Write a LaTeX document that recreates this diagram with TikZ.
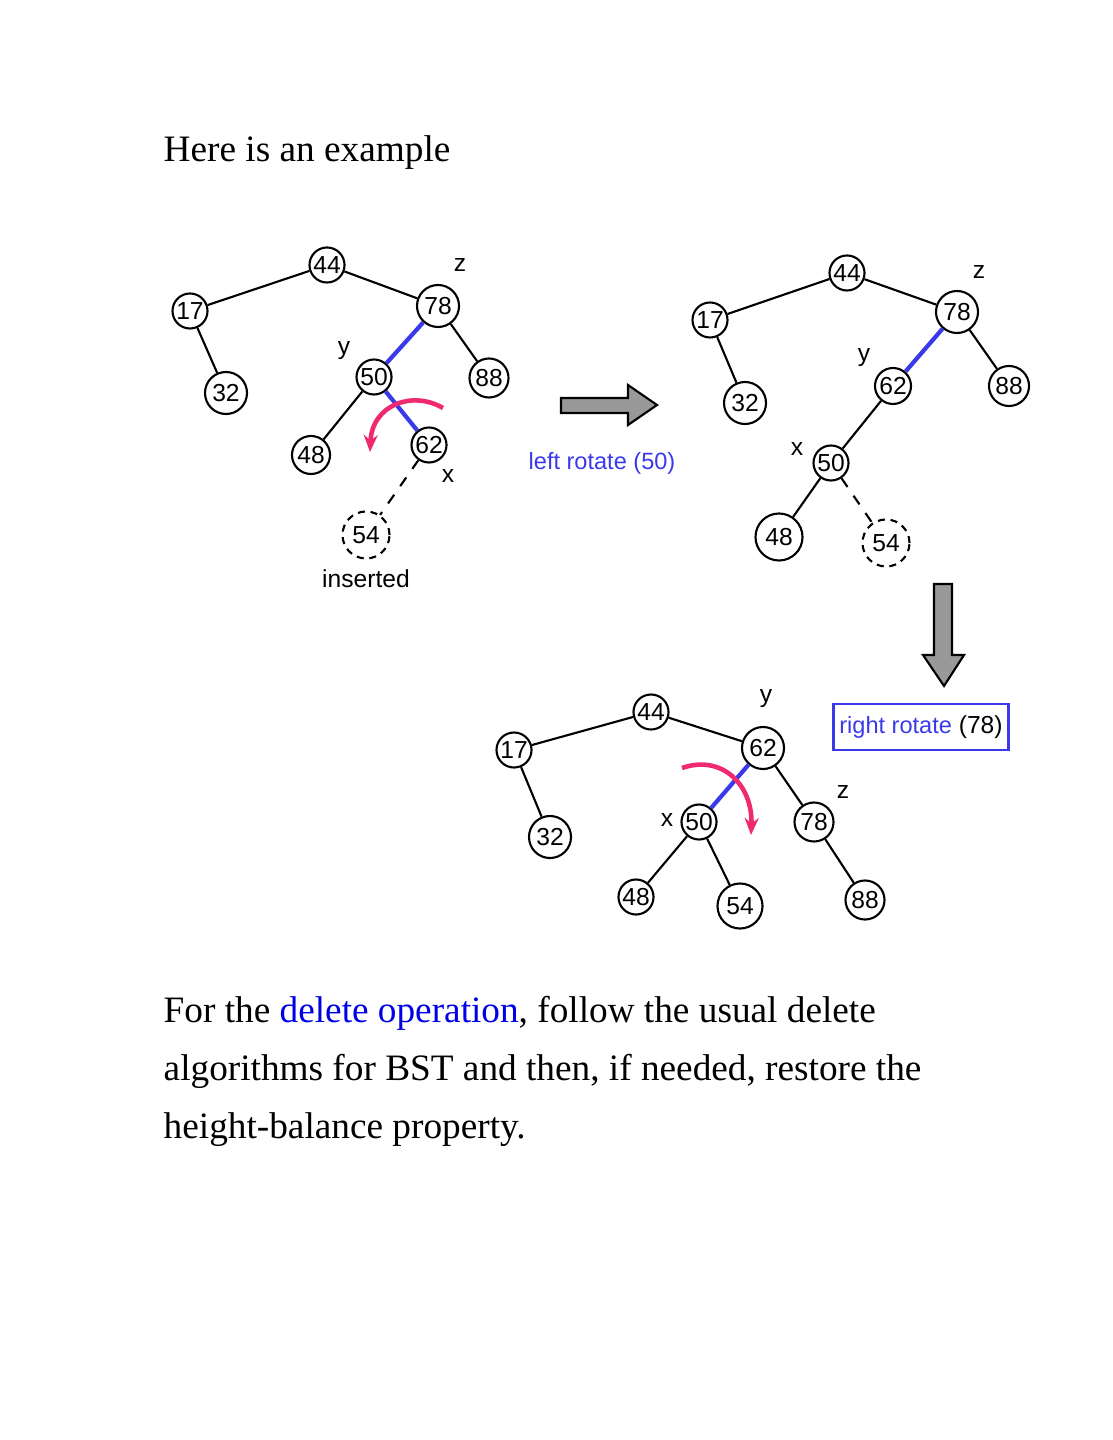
\documentclass[tikz,border=0pt]{standalone}
\usepackage{fontspec}
\setmainfont{Liberation Serif}
\newfontfamily\keyfont{Liberation Sans}
\usetikzlibrary{arrows.meta}
\definecolor{rotblue}{RGB}{58,58,235}
\definecolor{turnpink}{RGB}{240,42,112}
\definecolor{opblue}{RGB}{0,0,230}
\tikzset{
  key/.style={circle,draw,line width=0.6pt,inner sep=0pt,minimum size=0.35cm,
    font=\keyfont\fontsize{7}{8}\selectfont},
  wide/.style={minimum size=0.42cm},
  fresh/.style={key,dash pattern=on 2pt off 1.6pt,minimum size=0.47cm},
  branch/.style={line width=0.6pt},
  pivot/.style={line width=1.2pt,draw=rotblue},
  turn/.style={line width=1.3pt,draw=turnpink,-{Stealth[length=0.17cm,width=0.14cm]}},
  tag/.style={inner sep=0pt,font=\keyfont\fontsize{7}{8}\selectfont},
  bigarrow/.style={draw,fill=gray!80,line width=0.6pt},
  prose/.style={anchor=base west,inner sep=0pt,font=\fontsize{10.6}{12}\selectfont}
}
\begin{document}
\begin{tikzpicture}[x=0.01cm,y=-0.01cm]
\useasboundingbox (0,0) rectangle (1113,1440);
\node[prose] (head) at (163,162) {Here is an example};

% before: 54 just inserted
\node[key] (a44) at (327,265) {44};
\node[key] (a17) at (190,311) {17};
\node[key,wide] (a32) at (226,393) {32};
\node[key,wide] (a78) at (438,306) {78};
\node[key,minimum size=0.39cm] (a88) at (489,378) {88};
\node[key] (a50) at (374,377) {50};
\node[key,minimum size=0.38cm] (a48) at (311,455) {48};
\node[key] (a62) at (429,445) {62};
\node[fresh] (a54) at (366,535) {54};
\draw[branch] (a44)--(a17) (a17)--(a32) (a44)--(a78) (a78)--(a88) (a50)--(a48);
\draw[pivot] (a78)--(a50) (a50)--(a62);
\draw[branch,dashed] (a62)--(a54);
\node[tag] (az) at (460,265) {z};
\node[tag] (ay) at (344,351) {y};
\node[tag] (ax) at (448,476) {x};
\node[tag] (ains) at (366,579) {inserted};
\coordinate (aturn0) at (443,408);
\coordinate (aturn1) at (370,452);
\draw[turn] (aturn0) .. controls (412,390) and (372,405) .. (aturn1);

% left rotate arrow
\draw[bigarrow] (561,398)--(628,398)--(628,385)--(657,405)--(628,425)--(628,413)--(561,413)--cycle;
\node[tag,text=rotblue,font=\keyfont\fontsize{6.7}{8}\selectfont] (lrot) at (602,463) {left rotate (50)};

% after left rotate
\node[key] (b44) at (847,273) {44};
\node[key] (b17) at (710,320) {17};
\node[key,wide] (b32) at (745,403) {32};
\node[key,wide] (b78) at (957,312) {78};
\node[key,minimum size=0.40cm] (b88) at (1009,386) {88};
\node[key,minimum size=0.36cm] (b62) at (893,386) {62};
\node[key] (b50) at (831,463) {50};
\node[key,minimum size=0.47cm] (b48) at (779,537) {48};
\node[fresh] (b54) at (886,543) {54};
\draw[branch] (b44)--(b17) (b17)--(b32) (b44)--(b78) (b78)--(b88) (b62)--(b50) (b50)--(b48);
\draw[pivot] (b78)--(b62);
\draw[branch,dashed] (b50)--(b54);
\node[tag] (bz) at (979,272) {z};
\node[tag] (by) at (864,358) {y};
\node[tag] (bx) at (797,449) {x};

% right rotate arrow
\draw[bigarrow] (934,584)--(952,584)--(952,655)--(964,655)--(944,686)--(923,655)--(934,655)--cycle;
\node[draw=rotblue,line width=0.7pt,minimum width=1.75cm,minimum height=0.46cm,inner sep=0pt,
  font=\keyfont\fontsize{7}{8}\selectfont] (rrot) at (921,727)
  {\textcolor{rotblue}{\fontsize{6.7}{8}\selectfont right rotate} (78)};

% after right rotate
\node[key] (c44) at (651,712) {44};
\node[key] (c17) at (514,750) {17};
\node[key,wide] (c32) at (550,837) {32};
\node[key,wide] (c62) at (763,748) {62};
\node[key] (c50) at (699,822) {50};
\node[key,minimum size=0.39cm] (c78) at (814,822) {78};
\node[key] (c48) at (636,897) {48};
\node[key,minimum size=0.45cm] (c54) at (740,906) {54};
\node[key,minimum size=0.39cm] (c88) at (865,900) {88};
\draw[branch] (c44)--(c17) (c17)--(c32) (c44)--(c62) (c62)--(c78) (c78)--(c88) (c50)--(c48) (c50)--(c54);
\draw[pivot] (c62)--(c50);
\node[tag] (cy) at (766,699) {y};
\node[tag] (cz) at (843,792) {z};
\node[tag] (cx) at (667,820) {x};
\coordinate (cturn0) at (682,768);
\coordinate (cturn1) at (751,835);
\draw[turn] (cturn0) .. controls (722,754) and (753,785) .. (cturn1);

\node[prose] (line1) at (163,1022) {For the \textcolor{opblue}{delete operation}, follow the usual delete};
\node[prose] (line2) at (163,1080) {algorithms for BST and then, if needed, restore the};
\node[prose] (line3) at (163,1138) {height-balance property.};
\end{tikzpicture}
\end{document}
